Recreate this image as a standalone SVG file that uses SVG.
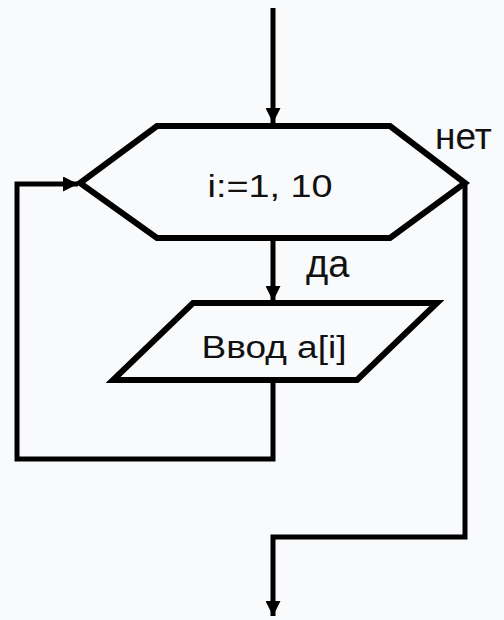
<svg xmlns="http://www.w3.org/2000/svg" width="504" height="620" viewBox="0 0 504 620">
<defs>
<marker id="arr" viewBox="0 0 10 10" refX="10" refY="5" markerWidth="3" markerHeight="3" markerUnits="strokeWidth" orient="auto">
<path d="M0,0 L10,5 L0,10 Z" fill="#000"/>
</marker>
<style>
.shape{fill:none;stroke:#000;stroke-width:6;stroke-linejoin:miter}
.conn{fill:none;stroke:#000;stroke-width:5}
.t{font-family:"Liberation Sans",Arial,sans-serif;fill:#111}
</style>
</defs>
<rect width="504" height="620" fill="#f9fafc"/>
<g id="connectors">
<path class="conn" d="M273,8 V123" marker-end="url(#arr)"/>
<path class="conn" d="M273,238 V301" marker-end="url(#arr)"/>
<path class="conn" d="M273,380 V459 H17 V184 H78" marker-end="url(#arr)"/>
<path class="conn" d="M465,183 V537 H273 V616" marker-end="url(#arr)"/>
</g>
<g id="loop">
<polygon class="shape" points="157,126 390,126 465,183 390,238 157,238 80,183"/>
<text class="t" x="270" y="197" font-size="31" text-anchor="middle" textLength="125" lengthAdjust="spacingAndGlyphs">i:=1, 10</text>
</g>
<g id="input">
<polygon class="shape" points="193,303 437,303 357,380 113,380"/>
<text class="t" x="274" y="358" font-size="31" text-anchor="middle" textLength="145" lengthAdjust="spacingAndGlyphs">Ввод а[i]</text>
</g>
<g id="labels">
<text class="t" x="435" y="149" font-size="37">нет</text>
<text class="t" x="306" y="277" font-size="38">да</text>
</g>
</svg>
